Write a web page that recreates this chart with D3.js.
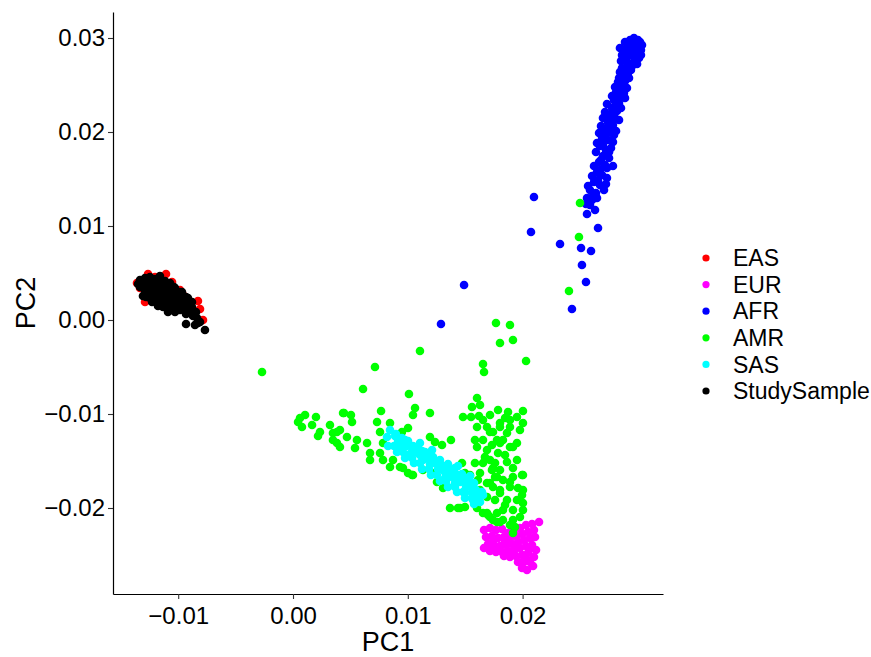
<!DOCTYPE html>
<html>
<head>
<meta charset="utf-8">
<script src="https://cdn.jsdelivr.net/npm/d3@7.8.5/dist/d3.min.js"></script>
<style>
  body { margin: 0; background: #fff; }
  svg { display: block; font-family: Arial, "Liberation Sans", sans-serif; }
</style>
</head>
<body>
<svg width="871" height="657"></svg>
<script>
// group names and colours, in legend order
const groups = ["EAS", "EUR", "AFR", "AMR", "SAS", "StudySample"];
const groupColors = ["#ff0000", "#ff00ff", "#0000ff", "#00ff00", "#00ffff", "#000000"];

const xTicks = [-0.01, 0.00, 0.01, 0.02];
const yTicks = [-0.02, -0.01, 0.00, 0.01, 0.02, 0.03];

// [PC1, PC2]
const eas = [
  [-0.01359, 0.00394], [-0.01263, 0.00489], [-0.01106, 0.00489], [-0.00984, 0.00319],
  [-0.00958, 0.00266], [-0.00828, 0.00202], [-0.00810, 0.00117], [-0.00784, 0.00000],
  [-0.01289, 0.00191], [-0.01333, 0.00340], [-0.01202, 0.00457], [-0.01054, 0.00404],
  [-0.01230, 0.00350], [-0.01150, 0.00300], [-0.01060, 0.00250]
];

const eur = [
  [0.01664, -0.02234], [0.01716, -0.02213], [0.01768, -0.02234], [0.01821, -0.02223],
  [0.01873, -0.02266], [0.01925, -0.02234], [0.01977, -0.02213], [0.02030, -0.02181],
  [0.02082, -0.02170], [0.02143, -0.02149], [0.01681, -0.02309], [0.01733, -0.02298],
  [0.01786, -0.02319], [0.01838, -0.02309], [0.01890, -0.02319], [0.01943, -0.02298],
  [0.01995, -0.02277], [0.02047, -0.02255], [0.02099, -0.02234], [0.01699, -0.02383],
  [0.01751, -0.02394], [0.01803, -0.02404], [0.01855, -0.02394], [0.01908, -0.02383],
  [0.01960, -0.02362], [0.02012, -0.02340], [0.02064, -0.02319], [0.02108, -0.02309],
  [0.01716, -0.02457], [0.01768, -0.02468], [0.01821, -0.02468], [0.01873, -0.02457],
  [0.01925, -0.02447], [0.01977, -0.02426], [0.02030, -0.02404], [0.02082, -0.02394],
  [0.02117, -0.02447], [0.01943, -0.02511], [0.01995, -0.02500], [0.02047, -0.02479],
  [0.02099, -0.02521], [0.01960, -0.02574], [0.02012, -0.02574], [0.02064, -0.02574],
  [0.01995, -0.02638], [0.02038, -0.02660], [0.02091, -0.02617], [0.01838, -0.02511],
  [0.01890, -0.02521], [0.01742, -0.02351], [0.01847, -0.02351], [0.01951, -0.02415],
  [0.02056, -0.02447], [0.01794, -0.02426], [0.01899, -0.02489], [0.02038, -0.02553],
  [0.01664, -0.02426]
];

const afr = [
  [0.02892, 0.02957], [0.02936, 0.02979], [0.02979, 0.02968], [0.03023, 0.02957],
  [0.03040, 0.02926], [0.02918, 0.02915], [0.02962, 0.02926], [0.03005, 0.02904],
  [0.02883, 0.02872], [0.02936, 0.02872], [0.02988, 0.02851], [0.03031, 0.02872],
  [0.02866, 0.02819], [0.02918, 0.02809], [0.02970, 0.02798], [0.03014, 0.02787],
  [0.03031, 0.02819], [0.02857, 0.02755], [0.02909, 0.02745], [0.02962, 0.02734],
  [0.02997, 0.02723], [0.02901, 0.02681], [0.02944, 0.02660], [0.02848, 0.02638],
  [0.02883, 0.02596], [0.02927, 0.02574], [0.02831, 0.02532], [0.02875, 0.02500],
  [0.02909, 0.02468], [0.02814, 0.02426], [0.02857, 0.02394], [0.02892, 0.02362],
  [0.02796, 0.02340], [0.02840, 0.02309], [0.02779, 0.02255], [0.02822, 0.02223],
  [0.02761, 0.02181], [0.02805, 0.02149], [0.02840, 0.02128], [0.02744, 0.02106],
  [0.02787, 0.02074], [0.02718, 0.02021], [0.02761, 0.02000], [0.02814, 0.02011],
  [0.02692, 0.01936], [0.02744, 0.01915], [0.02787, 0.01894], [0.02674, 0.01851],
  [0.02726, 0.01809], [0.02770, 0.01830], [0.02700, 0.01745], [0.02753, 0.01723],
  [0.02666, 0.01681], [0.02718, 0.01649], [0.02787, 0.01638], [0.02648, 0.01574],
  [0.02692, 0.01543], [0.02735, 0.01511], [0.02622, 0.01468], [0.02674, 0.01436],
  [0.02726, 0.01447], [0.02587, 0.01383], [0.02639, 0.01351], [0.02605, 0.01277],
  [0.02648, 0.01298], [0.02587, 0.01223], [0.02631, 0.01170],
  [0.02848, 0.02894], [0.02875, 0.02787], [0.02901, 0.02840], [0.02944, 0.02819],
  [0.02988, 0.02766], [0.02953, 0.02702], [0.02918, 0.02628], [0.02866, 0.02681],
  [0.02840, 0.02574], [0.02892, 0.02543], [0.02805, 0.02479], [0.02848, 0.02447],
  [0.02883, 0.02415], [0.02779, 0.02383], [0.02822, 0.02362], [0.02735, 0.02298],
  [0.02805, 0.02277], [0.02857, 0.02255], [0.02718, 0.02213], [0.02770, 0.02191],
  [0.02700, 0.02149], [0.02753, 0.02128], [0.02683, 0.02064], [0.02735, 0.02043],
  [0.02796, 0.01968], [0.02666, 0.01989], [0.02718, 0.01957], [0.02648, 0.01883],
  [0.02700, 0.01862], [0.02753, 0.01787], [0.02639, 0.01787], [0.02683, 0.01702],
  [0.02735, 0.01617], [0.02622, 0.01638], [0.02674, 0.01596], [0.02605, 0.01532],
  [0.02657, 0.01489], [0.02709, 0.01383], [0.02570, 0.01426], [0.02613, 0.01319],
  [0.02561, 0.01298], [0.02552, 0.01234], [0.03005, 0.02979], [0.02970, 0.03000],
  [0.02099, 0.01309], [0.02073, 0.00936], [0.02326, 0.00809], [0.02561, 0.01128],
  [0.02657, 0.00979], [0.02509, 0.00766], [0.02596, 0.00734], [0.02517, 0.00585],
  [0.02552, 0.00404], [0.02430, 0.00117], [0.01490, 0.00372], [0.01289, -0.00043]
];

const amr = [
  [-0.00270, -0.00553], [0.01768, -0.00032], [0.01890, -0.00053], [0.01803, -0.00245],
  [0.01916, -0.00213], [0.02030, -0.00436], [0.01106, -0.00330], [0.00714, -0.00500],
  [0.00610, -0.00734], [0.01010, -0.00787], [0.01655, -0.00468], [0.01664, -0.00553],
  [0.01603, -0.00830], [0.01559, -0.00926], [0.01063, -0.00936], [0.01045, -0.01011],
  [0.01193, -0.00989], [0.00767, -0.00968], [0.00444, -0.00989], [0.00505, -0.01011],
  [0.01481, -0.01032], [0.01551, -0.01032], [0.01620, -0.01021], [0.01786, -0.00957],
  [0.01873, -0.00979], [0.02003, -0.00968], [0.01951, -0.01032], [0.02003, -0.01096],
  [0.02500, 0.01245], [0.02491, 0.00883], [0.02404, 0.00309],
  [0.00105, -0.01011], [0.00200, -0.01032], [0.00078, -0.01138], [0.00166, -0.01117],
  [0.00235, -0.01191], [0.00218, -0.01234], [0.00322, -0.01117], [0.00348, -0.01202],
  [0.00409, -0.01170], [0.00470, -0.01245], [0.00383, -0.01309], [0.00514, -0.01085],
  [0.00557, -0.01277], [0.00540, -0.01362], [0.00645, -0.01309], [0.00671, -0.01415],
  [0.00671, -0.01489], [0.00732, -0.01085], [0.00758, -0.01191], [0.00845, -0.01096],
  [0.00784, -0.01309], [0.00758, -0.01415], [0.00784, -0.01489], [0.00871, -0.01489],
  [0.00932, -0.01564], [0.00845, -0.01564], [0.01002, -0.01149], [0.01045, -0.01649],
  [0.01002, -0.01628], [0.01132, -0.01596], [0.01193, -0.01245], [0.01298, -0.01330],
  [0.01376, -0.01277], [0.01211, -0.01628], [0.01254, -0.01723], [0.01307, -0.01787],
  [0.01368, -0.02000], [0.01455, -0.02000], [0.01472, -0.01521], [0.01498, -0.01628],
  [0.01516, -0.01723], [0.01568, -0.01883], [0.01603, -0.02000], [0.01655, -0.01521],
  [0.01585, -0.01521], [0.01629, -0.01628], [0.01716, -0.01489], [0.01733, -0.01596],
  [0.01690, -0.01734], [0.01742, -0.01777], [0.01803, -0.01809], [0.01890, -0.01777],
  [0.01951, -0.01915], [0.02003, -0.01649], [0.01916, -0.01670], [0.01786, -0.01415],
  [0.01890, -0.01351], [0.01951, -0.01309], [0.01777, -0.01277], [0.01829, -0.01277],
  [0.01864, -0.01202], [0.01890, -0.01138], [0.01803, -0.01138], [0.01716, -0.01191],
  [0.01690, -0.01138], [0.01603, -0.01138], [0.01585, -0.01277], [0.01603, -0.01351],
  [0.01690, -0.01383], [0.01760, -0.01521], [0.01803, -0.01596], [0.01864, -0.01915],
  [0.01916, -0.02021], [0.02003, -0.01947], [0.01777, -0.02053], [0.01690, -0.02053],
  [0.01742, -0.02128], [0.01829, -0.02128], [0.01916, -0.02128], [0.02003, -0.02021],
  [0.00436, -0.00989], [0.00383, -0.01191], [0.00348, -0.01277], [0.00409, -0.01351],
  [0.00949, -0.01191], [0.01237, -0.01298], [0.00958, -0.01574], [0.01037, -0.01649],
  [0.01437, -0.02000], [0.01498, -0.01989], [0.01699, -0.02074], [0.01890, -0.01723],
  [0.01995, -0.01862], [0.01829, -0.02021], [0.01716, -0.02096], [0.01777, -0.02149],
  [0.01890, -0.02181], [0.01916, -0.02266], [0.01655, -0.02053], [0.01934, -0.02202],
  [0.01977, -0.02096], [0.01803, -0.02149], [0.01995, -0.01649], [0.01916, -0.01574],
  [0.01742, -0.01574], [0.01803, -0.01840], [0.01716, -0.01734], [0.01829, -0.01702],
  [0.01777, -0.01670], [0.01916, -0.01351], [0.01803, -0.01309], [0.01742, -0.01191],
  [0.01890, -0.01064], [0.01803, -0.01096], [0.00044, -0.01085], [0.00061, -0.01043],
  [0.01629, -0.00904], [0.01716, -0.01011], [0.01847, -0.01043], [0.01655, -0.01277],
  [0.01847, -0.01436], [0.01951, -0.01489], [0.01672, -0.01457], [0.01760, -0.01670],
  [0.01960, -0.01787], [0.01629, -0.01809], [0.01847, -0.01968], [0.01760, -0.01915],
  [0.01690, -0.01883], [0.01542, -0.01649], [0.01611, -0.01702], [0.02003, -0.01809],
  [0.01864, -0.01511], [0.01733, -0.01330], [0.01655, -0.01064], [0.01977, -0.01170]
];

const sas = [
  [0.00845, -0.01170], [0.00819, -0.01245], [0.00889, -0.01234], [0.00915, -0.01298],
  [0.00949, -0.01255], [0.00976, -0.01330], [0.01002, -0.01287], [0.00932, -0.01362],
  [0.01037, -0.01351], [0.01063, -0.01404], [0.01019, -0.01426], [0.01089, -0.01362],
  [0.01106, -0.01436], [0.01132, -0.01489], [0.01150, -0.01404], [0.01176, -0.01468],
  [0.01193, -0.01532], [0.01220, -0.01457], [0.01237, -0.01521], [0.01263, -0.01585],
  [0.01280, -0.01489], [0.01307, -0.01553], [0.01324, -0.01617], [0.01350, -0.01532],
  [0.01368, -0.01596], [0.01385, -0.01670], [0.01411, -0.01574], [0.01429, -0.01649],
  [0.01455, -0.01723], [0.01472, -0.01638], [0.01490, -0.01702], [0.01507, -0.01777],
  [0.01524, -0.01681], [0.01542, -0.01755], [0.01559, -0.01830], [0.01577, -0.01734],
  [0.01594, -0.01809], [0.01611, -0.01883], [0.01629, -0.01936], [0.01568, -0.01915],
  [0.01655, -0.01862], [0.01498, -0.01840], [0.01411, -0.01734], [0.01324, -0.01681],
  [0.01106, -0.01309], [0.01211, -0.01383], [0.01437, -0.01553], [0.01542, -0.01660],
  [0.00897, -0.01213], [0.00976, -0.01277], [0.01045, -0.01340], [0.01124, -0.01394],
  [0.01193, -0.01457], [0.01272, -0.01521], [0.01350, -0.01585], [0.01420, -0.01649],
  [0.01498, -0.01702], [0.01568, -0.01766], [0.01646, -0.01830],
  [0.00828, -0.01340], [0.00906, -0.01404], [0.00976, -0.01468], [0.01054, -0.01521],
  [0.01124, -0.01585], [0.01202, -0.01649], [0.01280, -0.01713], [0.01350, -0.01777],
  [0.01429, -0.01830], [0.01498, -0.01894], [0.01577, -0.01957],
  [0.00915, -0.01277], [0.00993, -0.01340], [0.01071, -0.01404], [0.01141, -0.01457],
  [0.01220, -0.01521], [0.01289, -0.01585], [0.01368, -0.01649], [0.01446, -0.01713],
  [0.01516, -0.01766], [0.01594, -0.01830],
  [0.00880, -0.01340], [0.00958, -0.01404], [0.01037, -0.01468], [0.01106, -0.01521],
  [0.01185, -0.01585], [0.01254, -0.01649], [0.01333, -0.01713], [0.01411, -0.01777],
  [0.01481, -0.01830], [0.01559, -0.01894]
];

const study = [
  [-0.01333, 0.00426], [-0.01289, 0.00447], [-0.01246, 0.00457], [-0.01202, 0.00436],
  [-0.01315, 0.00362], [-0.01263, 0.00383], [-0.01220, 0.00394], [-0.01176, 0.00404],
  [-0.01132, 0.00383], [-0.01289, 0.00309], [-0.01246, 0.00330], [-0.01193, 0.00340],
  [-0.01150, 0.00340], [-0.01106, 0.00330], [-0.01063, 0.00319], [-0.01228, 0.00266],
  [-0.01176, 0.00277], [-0.01132, 0.00287], [-0.01089, 0.00277], [-0.01045, 0.00255],
  [-0.01002, 0.00234], [-0.01159, 0.00223], [-0.01115, 0.00223], [-0.01071, 0.00213],
  [-0.01019, 0.00191], [-0.00976, 0.00181], [-0.00932, 0.00160], [-0.01054, 0.00149],
  [-0.01002, 0.00128], [-0.00949, 0.00117], [-0.00897, 0.00106], [-0.00871, 0.00043],
  [-0.00836, 0.00021], [-0.00932, 0.00064], [-0.00810, -0.00021], [-0.00767, -0.00106],
  [-0.00854, -0.00053], [-0.01350, 0.00383], [-0.01307, 0.00255], [-0.01246, 0.00234],
  [-0.01202, 0.00213], [-0.01098, 0.00149], [-0.00915, 0.00234], [-0.00967, 0.00298],
  [-0.01028, 0.00340], [-0.01071, 0.00394], [-0.01159, 0.00468], [-0.01176, 0.00149],
  [-0.00915, 0.00138], [-0.00984, 0.00106], [-0.01089, 0.00085], [-0.00932, -0.00043],
  [-0.00828, -0.00032],
  [-0.01307, 0.00415], [-0.01263, 0.00415], [-0.01220, 0.00415], [-0.01159, 0.00415],
  [-0.01115, 0.00415], [-0.01333, 0.00351], [-0.01272, 0.00351], [-0.01220, 0.00351],
  [-0.01167, 0.00351], [-0.01124, 0.00351], [-0.01080, 0.00351], [-0.01037, 0.00351],
  [-0.01263, 0.00298], [-0.01202, 0.00298], [-0.01159, 0.00298], [-0.01106, 0.00298],
  [-0.01063, 0.00298], [-0.01019, 0.00298], [-0.00984, 0.00298], [-0.01280, 0.00245],
  [-0.01193, 0.00245], [-0.01141, 0.00245], [-0.01089, 0.00245], [-0.01028, 0.00245],
  [-0.00976, 0.00245], [-0.00932, 0.00245], [-0.01228, 0.00191], [-0.01141, 0.00191],
  [-0.01089, 0.00191], [-0.01045, 0.00191], [-0.00923, 0.00191], [-0.00880, 0.00191],
  [-0.01132, 0.00138], [-0.01028, 0.00138], [-0.00967, 0.00138], [-0.00880, 0.00138],
  [-0.01028, 0.00085], [-0.00897, 0.00085], [-0.00845, 0.00085]
];

const series = [eas, eur, afr, amr, sas, study];

const svg = d3.select("svg");
const plot = { left: 113, right: 663, top: 12, bottom: 594 };

const x = d3.scaleLinear()
  .domain([-0.01568, 0.03223])
  .range([plot.left, plot.right]);
const y = d3.scaleLinear()
  .domain([-0.029149, 0.032766])
  .range([plot.bottom, plot.top]);

// points, drawn in legend order so later groups sit on top
series.forEach((pts, i) => {
  svg.append("g")
    .selectAll("circle")
    .data(pts)
    .enter()
    .append("circle")
    .attr("cx", (d) => x(d[0]))
    .attr("cy", (d) => y(d[1]))
    .attr("r", 4.3)
    .attr("fill", groupColors[i]);
});

const fmt = d3.format(".2f");

const xAxis = svg.append("g")
  .attr("transform", `translate(0,${plot.bottom})`)
  .call(d3.axisBottom(x).tickValues(xTicks).tickFormat(fmt).tickSize(5).tickSizeOuter(0));
const yAxis = svg.append("g")
  .attr("transform", `translate(${plot.left},0)`)
  .call(d3.axisLeft(y).tickValues(yTicks).tickFormat(fmt).tickSize(5).tickSizeOuter(0));

[xAxis, yAxis].forEach((ax) => {
  ax.select(".domain").attr("stroke", "#000").attr("stroke-width", 1.2);
  ax.selectAll(".tick line").attr("stroke", "#333").attr("stroke-width", 1.1);
  ax.selectAll(".tick text")
    .attr("fill", "#000")
    .attr("font-size", 24)
    .attr("font-family", "Arial, 'Liberation Sans', sans-serif");
});
xAxis.selectAll(".tick text").attr("dy", "0.92em");

svg.append("text")
  .attr("x", (plot.left + plot.right) / 2)
  .attr("y", 651)
  .attr("text-anchor", "middle")
  .attr("font-size", 27)
  .text("PC1");

svg.append("text")
  .attr("transform", `translate(35,${(plot.top + plot.bottom) / 2}) rotate(-90)`)
  .attr("text-anchor", "middle")
  .attr("font-size", 27)
  .text("PC2");

// legend
const legY = d3.scalePoint().domain(groups).range([258, 391]);
const leg = svg.append("g")
  .selectAll("g")
  .data(groups)
  .enter()
  .append("g")
  .attr("transform", (d) => `translate(706,${legY(d)})`);

leg.append("circle")
  .attr("r", 3.6)
  .attr("fill", (d, i) => groupColors[i]);

leg.append("text")
  .attr("x", 27)
  .attr("dy", "0.36em")
  .attr("font-size", 23)
  .text((d) => d);
</script>
</body>
</html>
